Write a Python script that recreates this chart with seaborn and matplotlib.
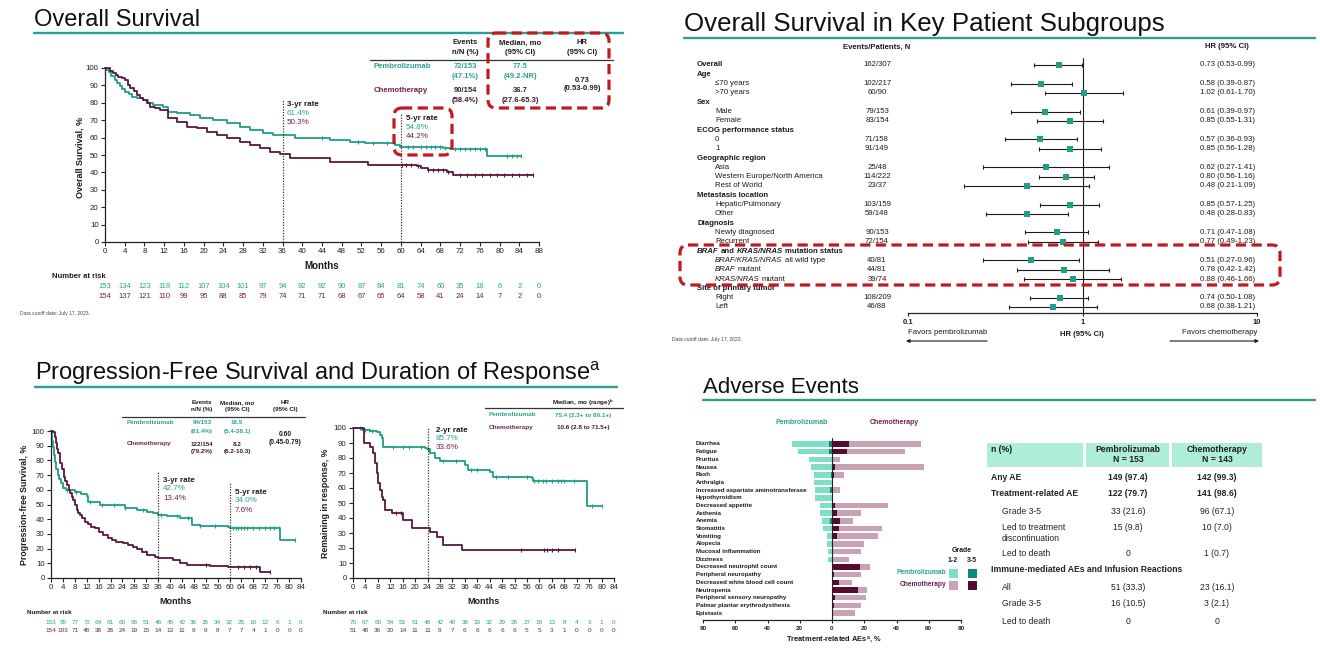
import numpy as np
import pandas as pd
import matplotlib
matplotlib.use("Agg")
import matplotlib.pyplot as plt
import seaborn as sns
from matplotlib.patches import FancyBboxPatch, Rectangle
from matplotlib.transforms import blended_transform_factory as blend
from matplotlib.ticker import NullLocator

# ====================== DATA ======================
# --- Overall survival: Kaplan-Meier step knots (months, %)
os_pem_t = [0, 0.3, 0.8, 1.3, 2.0, 2.5, 3.0, 3.5, 4.1, 4.8, 5.4, 6.5, 7.8, 8.8, 9.8, 11.8, 12.8, 14.5, 17.2, 19.3,
            21.9, 24.7, 27.4, 29.4, 32.1, 34.1, 38.5, 45.6, 49.7, 52.7, 58.8, 59.8, 68.6, 70.0, 77.5]
os_pem_s = [100, 98.9, 97.5, 95.5, 93, 91.5, 89.5, 88, 86.4, 85, 83.5, 82.5, 81.6, 80, 78.7, 77.8, 74.9, 74, 73, 71.1,
            70.1, 68.2, 66.3, 64.4, 62.5, 61.4, 59.6, 58.6, 57.7, 56.7, 55.7, 54.8, 53.8, 53.2, 49.4]
os_pem_end = 84.3
os_chemo_t = [0, 1.0, 1.7, 2.2, 2.7, 3.4, 4.1, 4.6, 5.1, 5.8, 6.4, 7.1, 7.8, 8.5, 9.1, 10.1, 11.2, 12.8, 14.5, 16.6,
              18.6, 20.6, 22.7, 24.7, 27.4, 29.4, 31.4, 33.5, 35.5, 37.5, 45.6, 53.3, 63.2, 64.0, 65.5, 69.3, 70.6]
os_chemo_s = [100, 98.5, 97, 96, 95, 94, 93.1, 90.5, 88.3, 86.5, 84.5, 83, 81.6, 79.7, 77.8, 76.8, 75.9, 71.1, 69.2, 66.3,
              65.3, 63.4, 61.5, 59.6, 57.6, 55.7, 53.8, 51.9, 50.3, 48.3, 46.2, 44.2, 43.4, 42.4, 41.5, 40.5, 38.6]
os_chemo_end = 86.7
os_pem_cens = [44, 51.3, 54.4, 57.1, 61.5, 62.5, 64, 65, 66, 67, 68, 69, 71, 72, 73, 74, 75, 76, 77, 81.5, 82.5, 83.5, 84.3]
os_chemo_cens = [60.3, 61, 62, 63.5, 65.5, 66.5, 67.5, 68.5, 69.5, 72, 73.5, 75, 76.5, 78, 79.5, 81, 82.5, 84, 85.5, 86.7]
os_risk_pem = [153, 134, 123, 119, 112, 107, 104, 101, 97, 94, 92, 92, 90, 87, 84, 81, 74, 60, 35, 18, 6, 2, 0]
os_risk_chemo = [154, 137, 121, 110, 99, 95, 88, 85, 79, 74, 71, 71, 68, 67, 65, 64, 58, 41, 24, 14, 7, 2, 0]
os_rates = {"3-yr rate": ("61.4%", "50.3%"), "5-yr rate": ("54.8%", "44.2%")}
os_table = {"events": ["72/153", "(47.1%)", "90/154", "(58.4%)"],
            "median": ["77.5", "(49.2-NR)", "36.7", "(27.6-65.3)"],
            "hr": ["0.73", "(0.53-0.99)"]}

# --- Progression-free survival
pfs_pem_t = [0, 0.25, 0.5, 0.8, 1.1, 1.4, 1.8, 2.2, 2.6, 3.3, 4.0, 5.0, 8.1, 10.0, 12.0, 12.5, 16.5, 24.9, 28.8, 32.1,
             34.4, 35.8, 38.9, 43.3, 47.3, 50.0, 59.6, 60.2, 77.0]
pfs_pem_s = [100, 97, 93, 89, 84, 79, 74, 70, 67.5, 64.4, 61, 59.9, 58.5, 57, 56, 52, 50, 47.6, 46.3, 45.1,
             44, 42.7, 42.2, 40.6, 36, 35.4, 34.9, 34.0, 25.9]
pfs_pem_end = 82.1
pfs_chemo_t = [0, 0.8, 1.2, 1.6, 2.0, 2.5, 3.0, 3.6, 4.2, 4.8, 5.3, 5.9, 6.4, 7.0, 7.5, 8.1, 8.6, 9.2, 9.7, 10.5,
               11.5, 12.5, 13.5, 14.8, 16.0, 17.6, 19.0, 20.4, 22.0, 24.3, 26.0, 27.7, 29.0, 30.5, 32.1, 34.9, 35.8,
               41.0, 43.3, 45.6, 53.4, 59.6, 70.2]
pfs_chemo_s = [100, 99, 96, 92, 88, 84.8, 78, 74, 69, 66, 63.3, 60, 57.6, 55, 53, 50, 46.3, 44, 42.9, 40.5,
               38.3, 36.5, 35, 33.8, 31.5, 29.3, 27.5, 25.9, 24.8, 23.6, 22.5, 21.3, 19.5, 17.9, 15.6, 14.5, 13.4,
               12, 10, 8.9, 8.3, 7.6, 4.3]
pfs_chemo_end = 73.6
pfs_pem_cens = [5.5, 8.5, 13, 17, 21, 25, 31, 37, 42.5, 46, 50, 55, 61, 62, 63, 64, 65, 66, 68, 70, 72, 73.5, 75, 76.5, 82]
pfs_chemo_cens = [32, 52, 63, 65, 67, 69, 73.6]
pfs_risk_pem = [153, 95, 77, 72, 64, 61, 60, 56, 51, 46, 45, 42, 36, 35, 34, 32, 25, 16, 12, 6, 1, 0]
pfs_risk_chemo = [154, 103, 71, 48, 38, 28, 24, 19, 15, 14, 13, 11, 9, 9, 8, 7, 7, 4, 1, 0, 0, 0]
pfs_rates = {"3-yr rate": ("42.7%", "13.4%"), "5-yr rate": ("34.0%", "7.6%")}
pfs_table = {"events": ["94/153", "(61.4%)", "122/154", "(79.2%)"],
             "median": ["16.5", "(5.4-38.1)", "8.2", "(6.2-10.3)"],
             "hr": ["0.60", "(0.45-0.79)"]}

# --- Duration of response
dor_pem_t = [0, 3.0, 5.5, 7.6, 8.7, 9.2, 9.8, 23.2, 23.7, 24.8, 26.4, 28.0, 36.0, 37.1, 44.0, 45.1, 57.5, 58.0, 75.2]
dor_pem_s = [100, 99, 98, 97.1, 95.3, 93.1, 87.6, 86.4, 85.7, 83.1, 79.8, 78.0, 75.3, 72.0, 70.9, 67.6, 66.4, 64.7, 48.0]
dor_pem_end = 80.0
dor_chemo_t = [0, 3.6, 5.5, 6.5, 7.1, 7.6, 8.2, 8.7, 9.2, 9.8, 10.3, 12.4, 16.2, 18.9, 24.8, 26.9, 29.0, 35.0]
dor_chemo_s = [100, 90, 87.6, 83.1, 76.4, 70, 63.1, 58.7, 54.2, 52, 45.3, 43.1, 38.7, 33.6, 30.9, 27.6, 22.0, 18.7]
dor_chemo_end = 71.5
dor_pem_cens = [2.2, 4, 5, 6, 13, 16, 18, 22, 24, 29, 33, 38, 40, 46, 50, 56, 58.3, 59.5, 61, 62, 64, 66, 67, 68, 71, 77, 80]
dor_chemo_cens = [14, 15.5, 54, 61.5, 62.5, 64, 66, 71.5]
dor_risk_pem = [70, 67, 60, 54, 53, 51, 48, 42, 40, 38, 33, 32, 29, 28, 27, 18, 13, 8, 4, 3, 1, 0]
dor_risk_chemo = [51, 48, 36, 20, 14, 11, 11, 9, 7, 6, 6, 6, 6, 6, 5, 5, 3, 1, 0, 0, 0, 0]
dor_rates = {"2-yr rate": ("85.7%", "33.6%")}
dor_median = ["75.4 (2.3+ to 80.1+)", "10.6 (2.8 to 71.5+)"]

# --- Forest plot (OS in subgroups); '*' marks italic segments
fp_labels = ["Overall", "Age", "\u226470 years", ">70 years", "Sex", "Male", "Female", "ECOG performance status", "0", "1",
             "Geographic region", "Asia", "Western Europe/North America", "Rest of World", "Metastasis location",
             "Hepatic/Pulmonary", "Other", "Diagnosis", "Newly diagnosed", "Recurrent",
             "*BRAF* and *KRAS/NRAS* mutation status", "*BRAF/KRAS/NRAS* all wild type", "*BRAF* mutant",
             "*KRAS/NRAS* mutant", "Site of primary tumor", "Right", "Left"]
fp_kind = ["h", "h", "s", "s", "h", "s", "s", "h", "s", "s", "h", "s", "s", "s", "h", "s", "s", "h", "s", "s",
           "h", "s", "s", "s", "h", "s", "s"]
fp_events = ["162/307", "", "102/217", "60/90", "", "79/153", "83/154", "", "71/158", "91/149", "", "25/48", "114/222",
             "23/37", "", "103/159", "59/148", "", "90/153", "72/154", "", "40/81", "44/81", "39/74", "", "108/209", "46/88"]
nan = np.nan
fp_hr = [0.73, nan, 0.58, 1.02, nan, 0.61, 0.85, nan, 0.57, 0.85, nan, 0.62, 0.80, 0.48, nan, 0.85, 0.48, nan, 0.71,
         0.77, nan, 0.51, 0.78, 0.88, nan, 0.74, 0.68]
fp_lo = [0.53, nan, 0.39, 0.61, nan, 0.39, 0.55, nan, 0.36, 0.56, nan, 0.27, 0.56, 0.21, nan, 0.57, 0.28, nan, 0.47,
         0.49, nan, 0.27, 0.42, 0.46, nan, 0.50, 0.38]
fp_hi = [0.99, nan, 0.87, 1.70, nan, 0.97, 1.31, nan, 0.93, 1.28, nan, 1.41, 1.16, 1.09, nan, 1.25, 0.83, nan, 1.08,
         1.23, nan, 0.96, 1.42, 1.66, nan, 1.08, 1.21]

# --- Treatment-related adverse events (%)
ae_labels = ["Diarrhea", "Fatigue", "Pruritus", "Nausea", "Rash", "Arthralgia", "Increased aspartate aminotransferase",
             "Hypothyroidism", "Decreased appetite", "Asthenia", "Anemia", "Stomatitis", "Vomiting", "Alopecia",
             "Mucosal inflammation", "Dizziness", "Decreased neutrophil count", "Peripheral neuropathy",
             "Decreased white blood cell count", "Neutropenia", "Peripheral sensory neuropathy",
             "Palmar plantar erythrodysthesia", "Epistaxis"]
pem_any = [25, 21, 14, 13, 11.4, 11.4, 10.8, 10.8, 7.7, 7.5, 6, 5.4, 3.2, 3.2, 2.6, 2.6, 0, 0, 0, 0, 0, 0, 0]
pem_g35 = [2, 2, 0, 0, 0.7, 0, 1.3, 0, 0, 0, 1.3, 0, 0, 0, 0, 0, 0, 0, 0, 0, 0, 0, 0]
chemo_any = [55, 45.4, 5, 57, 7.7, 0, 5, 0, 35, 18, 13.3, 31, 28.8, 20, 18, 10.5, 23.6, 18, 12.3, 21.7, 20.8, 18, 14.4]
chemo_g35 = [10.5, 9.4, 0, 2, 1, 0, 0, 0, 2, 3.4, 5, 4.3, 3.4, 0, 0, 0, 17.2, 1, 4.3, 16, 2, 1.3, 0]

# --- AE summary table
ae_tab_rows = ["Any AE", "Treatment-related AE", "Grade 3-5", "Led to treatment\ndiscontinuation", "Led to death",
               "Immune-mediated AEs and Infusion Reactions", "All", "Grade 3-5", "Led to death"]
ae_tab_kind = ["b", "b", "i", "i", "i", "sec", "i", "i", "i"]
ae_tab_pem = ["149 (97.4)", "122 (79.7)", "33 (21.6)", "15 (9.8)", "0", "", "51 (33.3)", "16 (10.5)", "0"]
ae_tab_chemo = ["142 (99.3)", "141 (98.6)", "96 (67.1)", "10 (7.0)", "1 (0.7)", "", "23 (16.1)", "3 (2.1)", "0"]

# ====================== STYLE ======================
sns.set_theme(style="white")
plt.rcParams["font.family"] = ["Liberation Sans", "DejaVu Sans"]
plt.rcParams["mathtext.fontset"] = "custom"
plt.rcParams["mathtext.rm"] = "Liberation Sans"
plt.rcParams["mathtext.bf"] = "Liberation Sans:bold"
plt.rcParams["mathtext.it"] = "Liberation Sans:italic"

TEAL = "#1f9e88"; MAROON = "#5a1740"; TEAL_T = "#2aa38e"; MAR_T = "#6b2452"
DARK = "#1c1c1c"; RED = "#c01a20"; ULINE = "#2b9f92"
PEM_L = "#7ddfc4"; PEM_D = "#0f8a75"; CHE_L = "#c9a3b5"; CHE_D = "#560a30"

W, H = 1320, 661
fig = plt.figure(figsize=(W / 100, H / 100), dpi=100)
fig.patch.set_facecolor("white")


def rect(x0, y0, x1, y1):
    return [x0 / W, 1 - y1 / H, (x1 - x0) / W, (y1 - y0) / H]


ov = fig.add_axes([0, 0, 1, 1], zorder=20)
ov.set_xlim(0, W); ov.set_ylim(H, 0); ov.axis("off"); ov.patch.set_alpha(0)


def T(x, y, s, size=5.5, color=DARK, ha="left", va="center", weight="normal", ax=None, tr=None, **kw):
    a = ov if ax is None else ax
    return a.text(x, y, s, fontsize=size, color=color, ha=ha, va=va, fontweight=weight,
                  transform=(tr if tr is not None else a.transData), clip_on=False, **kw)


def rbox(x0, y0, x1, y1):
    ov.add_patch(FancyBboxPatch((x0, y0), x1 - x0, y1 - y0, boxstyle="round,pad=0,rounding_size=8",
                                fc="none", ec=RED, lw=2.3, ls=(0, (3.2, 1.7)), zorder=6))


def title(x, y, s, x1, yl, size=17):
    T(x, y, s, size, "#111111", va="baseline")
    ov.plot([x, x1], [yl, yl], color=ULINE, lw=1.7)


def km_axes(box, xmax, lab_fs):
    ax = fig.add_axes(rect(*box))
    ax.set_xlim(0, xmax); ax.set_ylim(0, 100)
    ax.patch.set_alpha(0)
    for sp in ["top", "right"]:
        ax.spines[sp].set_visible(False)
    for sp in ["left", "bottom"]:
        ax.spines[sp].set_color("#222222"); ax.spines[sp].set_linewidth(0.9)
    ax.tick_params(axis="both", which="major", bottom=True, left=True, direction="out", length=3, width=0.8,
                   labelsize=lab_fs, pad=1.5, colors="#222222")
    ax.grid(False)
    return ax


def draw_km(ax, t, s, end, cens, color):
    tt = np.append(t, end); ss = np.append(s, s[-1])
    sns.lineplot(x=tt, y=ss, drawstyle="steps-post", estimator=None, sort=False, color=color, lw=1.3,
                 ax=ax, clip_on=False)
    idx = np.searchsorted(np.array(t), np.array(cens), side="right") - 1
    ax.plot(cens, np.array(s)[idx], ls="none", marker="|", ms=3.5, mew=0.8, color=color, clip_on=False)
    ax.set_xlabel(""); ax.set_ylabel("")


def risk_rows(ax, ticks, r1, r2, y1, y2, fs):
    tr = blend(ax.transData, ov.transData)
    for x, a, b in zip(ticks, r1, r2):
        T(x, y1, str(a), fs, TEAL_T, "center", tr=tr)
        T(x, y2, str(b), fs, MAR_T, "center", tr=tr)


def rate_note(ax, xm, top_pct, rates_key, rates, xtext, ytext, fs, dy):
    ax.plot([xm, xm], [0, top_pct], color="#333333", lw=0.9, ls=(0, (1, 1.2)), clip_on=False)
    T(xtext, ytext, rates_key, fs, DARK, weight="bold")
    T(xtext, ytext + dy, rates[0], fs, TEAL_T)
    T(xtext, ytext + 2 * dy, rates[1], fs, MAR_T)


# ====================== OVERALL SURVIVAL ======================
title(34, 26, "Overall Survival", 623, 33)
ax_os = km_axes((105, 68, 539, 242), 88, 5.7)
ax_os.set_xticks(np.arange(0, 89, 4)); ax_os.set_yticks(np.arange(0, 101, 10))
draw_km(ax_os, os_pem_t, os_pem_s, os_pem_end, os_pem_cens, TEAL)
draw_km(ax_os, os_chemo_t, os_chemo_s, os_chemo_end, os_chemo_cens, MAROON)
T(80, 157, "Overall Survival, %", 6.5, DARK, "center", weight="bold", rotation=90)
T(322, 266, "Months", 7, DARK, "center", weight="bold")
T(52, 276, "Number at risk", 5.5, DARK, weight="bold")
risk_rows(ax_os, np.arange(0, 89, 4), os_risk_pem, os_risk_chemo, 287, 297, 5.5)
T(20, 313, "Data cutoff date: July 17, 2023.", 3.6, "#444444")
k = "3-yr rate"; rate_note(ax_os, 36, 82, k, os_rates[k], 287, 104, 5.8, 9.5)
k = "5-yr rate"; rate_note(ax_os, 60, 74, k, os_rates[k], 406, 118, 5.8, 9.2)
# table
for xc, l1, l2 in [(465, "Events", "n/N (%)"), (520, "Median, mo", "(95% CI)"), (582, "HR", "(95% CI)")]:
    T(xc, 43, l1, 5.5, DARK, "center", weight="bold"); T(xc, 53, l2, 5.5, DARK, "center", weight="bold")
ov.plot([370, 613], [60, 60], color="#333333", lw=0.9)
T(374, 67, "Pembrolizumab", 5.6, TEAL_T, weight="bold")
T(374, 91, "Chemotherapy", 5.6, MAR_T, weight="bold")
ev, md = os_table["events"], os_table["median"]
T(465, 67, ev[0], 5.5, TEAL_T, "center", weight="bold"); T(465, 77, ev[1], 5.5, TEAL_T, "center", weight="bold")
T(465, 91, ev[2], 5.5, "#3a1a2c", "center", weight="bold"); T(465, 101, ev[3], 5.5, "#3a1a2c", "center", weight="bold")
T(520, 67, md[0], 5.5, TEAL_T, "center", weight="bold"); T(520, 77, md[1], 5.5, TEAL_T, "center", weight="bold")
T(520, 91, md[2], 5.5, "#3a1a2c", "center", weight="bold"); T(520, 101, md[3], 5.5, "#3a1a2c", "center", weight="bold")
T(582, 80, os_table["hr"][0], 5.5, DARK, "center", weight="bold")
T(582, 89, os_table["hr"][1], 5.5, DARK, "center", weight="bold")
rbox(488, 33, 609, 108)
rbox(394, 108, 452, 155)

# ====================== PFS ======================
title(35, 380, "Progression-Free Survival and Duration of Response$^{\\mathrm{a}}$", 617, 387)
ax_pfs = km_axes((51, 431, 301, 578), 84, 5.7)
ax_pfs.set_xticks(np.arange(0, 85, 4)); ax_pfs.set_yticks(np.arange(0, 101, 10))
draw_km(ax_pfs, pfs_pem_t, pfs_pem_s, pfs_pem_end, pfs_pem_cens, TEAL)
draw_km(ax_pfs, pfs_chemo_t, pfs_chemo_s, pfs_chemo_end, pfs_chemo_cens, MAROON)
T(25, 505, "Progression-free Survival, %", 6.3, DARK, "center", weight="bold", rotation=90)
T(176, 602, "Months", 6.5, DARK, "center", weight="bold")
T(27, 612, "Number at risk", 4.6, DARK, weight="bold")
risk_rows(ax_pfs, np.arange(0, 85, 4), pfs_risk_pem, pfs_risk_chemo, 622, 631, 4.6)
k = "3-yr rate"; rate_note(ax_pfs, 36, 73, k, pfs_rates[k], 163, 480, 5.8, 9)
k = "5-yr rate"; rate_note(ax_pfs, 60, 64.5, k, pfs_rates[k], 235, 492, 5.8, 9)
for xc, l1, l2 in [(202, "Events", "n/N (%)"), (237, "Median, mo", "(95% CI)"), (285, "HR", "(95% CI)")]:
    T(xc, 403, l1, 4.5, DARK, "center", weight="bold"); T(xc, 410, l2, 4.5, DARK, "center", weight="bold")
ov.plot([122, 305], [417, 417], color="#333333", lw=0.9)
T(127, 423, "Pembrolizumab", 4.6, TEAL_T, weight="bold")
T(127, 444, "Chemotherapy", 4.6, MAR_T, weight="bold")
ev, md = pfs_table["events"], pfs_table["median"]
T(202, 423, ev[0], 4.5, TEAL_T, "center", weight="bold"); T(202, 431, ev[1], 4.5, TEAL_T, "center", weight="bold")
T(202, 444, ev[2], 4.5, "#3a1a2c", "center", weight="bold"); T(202, 452, ev[3], 4.5, "#3a1a2c", "center", weight="bold")
T(237, 423, md[0], 4.5, TEAL_T, "center", weight="bold"); T(237, 431, md[1], 4.5, TEAL_T, "center", weight="bold")
T(237, 444, md[2], 4.5, "#3a1a2c", "center", weight="bold"); T(237, 452, md[3], 4.5, "#3a1a2c", "center", weight="bold")
T(285, 434, pfs_table["hr"][0], 4.8, DARK, "center", weight="bold")
T(285, 442, pfs_table["hr"][1], 4.8, DARK, "center", weight="bold")

# ====================== DOR ======================
ax_dor = km_axes((353, 428, 614, 578), 84, 5.7)
ax_dor.set_xticks(np.arange(0, 85, 4)); ax_dor.set_yticks(np.arange(0, 101, 10))
draw_km(ax_dor, dor_pem_t, dor_pem_s, dor_pem_end, dor_pem_cens, TEAL)
draw_km(ax_dor, dor_chemo_t, dor_chemo_s, dor_chemo_end, dor_chemo_cens, MAROON)
T(326, 503, "Remaining in response, %", 6.3, DARK, "center", weight="bold", rotation=90)
T(483, 602, "Months", 6.5, DARK, "center", weight="bold")
T(323, 612, "Number at risk", 4.6, DARK, weight="bold")
risk_rows(ax_dor, np.arange(0, 85, 4), dor_risk_pem, dor_risk_chemo, 622, 631, 4.6)
k = "2-yr rate"; rate_note(ax_dor, 24, 100, k, dor_rates[k], 436, 430, 5.8, 8.8)
T(583, 403, "Median, mo (range)$^{\\mathbf{b}}$", 4.5, DARK, "center", weight="bold")
ov.plot([485, 623], [408, 408], color="#333333", lw=0.9)
T(489, 415, "Pembrolizumab", 4.6, TEAL_T, weight="bold")
T(489, 428, "Chemotherapy", 4.6, MAR_T, weight="bold")
T(583, 415, dor_median[0], 4.5, TEAL_T, "center", weight="bold")
T(583, 428, dor_median[1], 4.5, "#3a1a2c", "center", weight="bold")

# ====================== FOREST ======================
title(684, 31, "Overall Survival in Key Patient Subgroups", 1315, 38, size=18.6)
fax = fig.add_axes(rect(908, 58, 1257, 313))
fax.set_xscale("log"); fax.patch.set_alpha(0)
idx = np.arange(len(fp_labels))
hr = np.array(fp_hr, float); lo = np.array(fp_lo, float); hi = np.array(fp_hi, float)
m = ~np.isnan(hr)
fax.errorbar(hr[m], idx[m], xerr=[hr[m] - lo[m], hi[m] - hr[m]], fmt="none", ecolor=DARK, elinewidth=0.8,
             capsize=1.6, capthick=0.8, zorder=2)
sns.scatterplot(x=hr[m], y=idx[m], marker="s", s=22, color=TEAL, edgecolor=TEAL, linewidth=0, ax=fax, zorder=3)
fax.axvline(1, color=DARK, lw=0.8, zorder=1)
fax.set_xlim(0.1, 10); fax.set_ylim(26.65, -0.75)
for sp in ["top", "right", "left"]:
    fax.spines[sp].set_visible(False)
fax.spines["bottom"].set_color("#222222"); fax.spines["bottom"].set_linewidth(0.9)
fax.set_xticks([0.1, 1, 10]); fax.set_xticklabels(["0.1", "1", "10"], fontweight="bold")
fax.xaxis.set_minor_locator(NullLocator())
fax.set_yticks([])
fax.tick_params(axis="x", bottom=True, length=2.5, width=0.8, labelsize=5.5, pad=1.5, colors="#222222")
fax.set_xlabel(""); fax.set_ylabel("")

trf = blend(ov.transData, fax.transData)
rend = fig.canvas.get_renderer()
space_px = 0.278 * 5.6 * 100 / 72


def seq_text(x, y, label, weight, size, tr):
    parts = label.split("*")
    for i, p in enumerate(parts):
        if not p:
            continue
        lead = len(p) - len(p.lstrip(" ")); trail = len(p) - len(p.rstrip(" "))
        x += lead * space_px
        core = p.strip(" ")
        t = T(x, y, core, size, DARK, weight=weight, style=("italic" if i % 2 else "normal"), tr=tr)
        x += t.get_window_extent(renderer=rend).width + trail * space_px


T(877, 47, "Events/Patients, N", 5.6, DARK, "center", weight="bold")
T(1227, 47, "HR (95% CI)", 5.6, DARK, "center", weight="bold")
for i, (lab, kd) in enumerate(zip(fp_labels, fp_kind)):
    seq_text(697 if kd == "h" else 715, i, lab, "bold" if kd == "h" else "normal", 5.6, trf)
    if fp_events[i]:
        T(877, i, fp_events[i], 5.6, DARK, "center", tr=trf)
    if m[i]:
        T(1200, i, f"{hr[i]:.2f} ({lo[i]:.2f}-{hi[i]:.2f})", 5.6, DARK, tr=trf)
T(1082, 334, "HR (95% CI)", 5.6, DARK, "center", weight="bold")
T(908, 333, "Favors pembrolizumab", 5.6, DARK)
T(1257, 333, "Favors chemotherapy", 5.6, DARK, "right")
ov.annotate("", xy=(906, 341), xytext=(987, 341),
            arrowprops=dict(arrowstyle="-|>", lw=0.8, color=DARK, mutation_scale=5, shrinkA=0, shrinkB=0))
ov.annotate("", xy=(1259, 341), xytext=(1170, 341),
            arrowprops=dict(arrowstyle="-|>", lw=0.8, color=DARK, mutation_scale=5, shrinkA=0, shrinkB=0))
T(672, 340, "Data cutoff date: July 17, 2023.", 3.6, "#444444")
rbox(680, 245, 1280, 285)

# ====================== ADVERSE EVENTS ======================
title(703, 393, "Adverse Events", 1315, 400, size=16)
aax = fig.add_axes(rect(703, 438, 961, 620))
aax.patch.set_alpha(0)
df = pd.DataFrame({"ae": ae_labels, "pem_any": -np.array(pem_any, float), "pem_g35": -np.array(pem_g35, float),
                   "chemo_any": np.array(chemo_any, float), "chemo_g35": np.array(chemo_g35, float)})
for col, c in [("pem_any", PEM_L), ("pem_g35", PEM_D), ("chemo_any", CHE_L), ("chemo_g35", CHE_D)]:
    sns.barplot(data=df, x=col, y="ae", order=ae_labels, color=c, saturation=1, width=0.72, errorbar=None,
                orient="h", ax=aax, linewidth=0)
aax.axvline(0, color="#222222", lw=0.8)
aax.set_xlim(-80, 80); aax.set_ylim(22.9, -0.78)
for sp in ["top", "right", "left"]:
    aax.spines[sp].set_visible(False)
aax.spines["bottom"].set_color("#222222"); aax.spines["bottom"].set_linewidth(0.9)
ticks = np.arange(-80, 81, 20)
aax.set_xticks(ticks); aax.set_xticklabels([str(abs(v)) for v in ticks], fontweight="bold")
aax.set_yticks([])
aax.tick_params(axis="x", bottom=True, length=2.5, width=0.8, labelsize=4.5, pad=1.5, colors="#222222")
aax.set_xlabel(""); aax.set_ylabel("")
tra = blend(ov.transData, aax.transData)
for i, lab in enumerate(ae_labels):
    T(696, i, lab, 4.4, DARK, weight="bold", tr=tra)
T(802, 423, "Pembrolizumab", 5, TEAL_T, "center", weight="bold")
T(894, 423, "Chemotherapy", 5, MAR_T, "center", weight="bold")
T(834, 640, "Treatment-related AEs$^{\\mathbf{a}}$, %", 5.4, DARK, "center", weight="bold")
# legend
T(962, 551, "Grade", 5, DARK, "center", weight="bold")
T(953, 560, "1-2", 5, DARK, "center", weight="bold")
T(972, 560, "3-5", 5, DARK, "center", weight="bold")
for yy, lab, tc, cl, cd in [(573, "Pembrolizumab", TEAL_T, PEM_L, PEM_D), (585, "Chemotherapy", MAR_T, CHE_L, CHE_D)]:
    T(946, yy, lab, 4.8, tc, "right", weight="bold")
    ov.add_patch(Rectangle((949, yy - 4.5), 9, 9, fc=cl, ec="none"))
    ov.add_patch(Rectangle((968, yy - 4.5), 9, 9, fc=cd, ec="none"))

# AE table
HEAD = "#aeeed8"
for x0, x1 in [(987, 1083), (1086, 1169), (1172, 1262)]:
    ov.add_patch(Rectangle((x0, 443), x1 - x0, 24, fc=HEAD, ec="none"))
T(991, 449, "n (%)", 6.2, DARK, weight="bold")
T(1128, 449, "Pembrolizumab", 6.2, DARK, "center", weight="bold")
T(1128, 459, "N = 153", 6.2, DARK, "center", weight="bold")
T(1217, 449, "Chemotherapy", 6.2, DARK, "center", weight="bold")
T(1217, 459, "N = 143", 6.2, DARK, "center", weight="bold")
row_y = [477, 494, 511, 528, 553, 570, 587, 604, 622]
for lab, kd, a, b, yy in zip(ae_tab_rows, ae_tab_kind, ae_tab_pem, ae_tab_chemo, row_y):
    bold = "bold" if kd in ("b", "sec") else "normal"
    xl = 991 if kd in ("b", "sec") else 1002
    if "\n" in lab:
        T(xl, yy + 5, lab, 6.2, "#222222", weight=bold, linespacing=1.35)
    else:
        T(xl, yy, lab, 6.2, "#222222", weight=bold)
    if a:
        T(1128, yy, a, 6.2, "#222222", "center", weight=bold)
        T(1217, yy, b, 6.2, "#222222", "center", weight=bold)

fig.savefig("out.png", dpi=100, facecolor="white")
